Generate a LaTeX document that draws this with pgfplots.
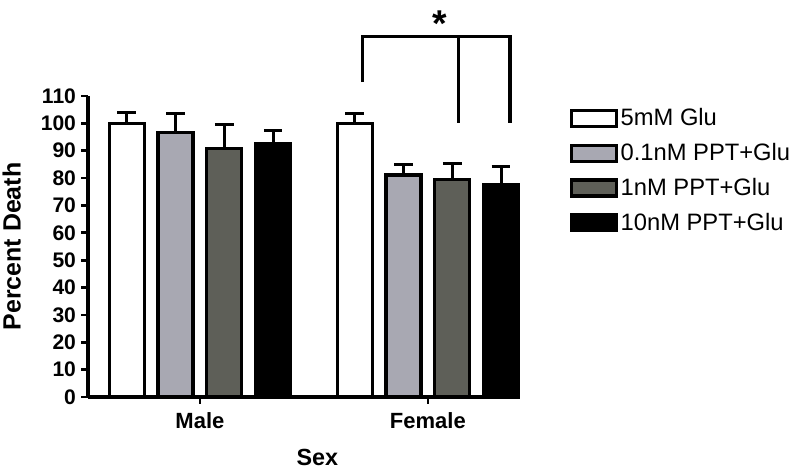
\documentclass[border=0pt]{standalone}
\usepackage{pgfplots}
\pgfplotsset{compat=1.18}
\usepackage{fontspec}
\setmainfont{Liberation Sans}
\definecolor{lgray}{HTML}{A8A8B2}
\definecolor{dgray}{HTML}{5E5F58}

\pgfplotsset{
  patch legend/.style={legend image code/.code={
    \draw[##1, line width=2.3pt] (0pt,-6pt) rectangle (34pt,6pt);}},
  sembar/.style={ybar, bar width=0.1535, bar shift=0pt, draw=black, line width=2.5pt, patch legend,
    error bars/.cd, y dir=plus, y explicit,
    error bar style={line width=2.3pt},
    error mark options={rotate=90, mark size=7pt, line width=2.3pt}},
}

\begin{document}
\begin{tikzpicture}
\useasboundingbox (-66pt,-55.5pt) rectangle (534pt,297.75pt);
\begin{axis}[
  at={(0,0)}, anchor=south west,
  width=324pt, height=225.75pt, scale only axis,
  xmin=-0.491, xmax=1.404, ymin=0, ymax=110,
  axis x line=bottom, axis y line=left,
  axis line style={line width=2.5pt, -},
  xtick={0,1}, xticklabels={Male,Female},
  ytick={0,10,...,110},
  tick style={line width=2pt, black},
  tick align=outside,
  major tick length=5pt,
  /pgf/number format/assume math mode=true,
  yticklabel style={font=\fontsize{15.8}{16}\selectfont\bfseries, xshift=-0.5pt},
  xticklabel style={font=\fontsize{16.5}{17}\selectfont\bfseries, yshift=-3pt},
  xlabel={Sex}, ylabel={Percent Death},
  xlabel style={font=\fontsize{17.5}{18}\selectfont\bfseries, yshift=-9pt, xshift=10pt},
  ylabel style={font=\fontsize{18.7}{19}\selectfont\bfseries, yshift=8pt},
  clip=false,
  legend style={at={(1.105,0.977)}, anchor=north west, draw=none, fill=none,
    font=\fontsize{17.8}{18}\selectfont, row sep=7.8pt,
    /tikz/every even column/.append style={column sep=2pt}},
  legend cell align=left,
]
\addplot[fill=white, sembar]
  coordinates {(-0.321,100) +- (0,4.0) (0.679,100) +- (0,3.6)};
\addlegendentry{5mM Glu}
\addplot[fill=lgray, sembar]
  coordinates {(-0.107,96.7) +- (0,6.9) (0.893,81.1) +- (0,3.9)};
\addlegendentry{0.1nM PPT+Glu}
\addplot[fill=dgray, sembar]
  coordinates {(0.107,90.8) +- (0,8.8) (1.107,79.5) +- (0,5.9)};
\addlegendentry{1nM PPT+Glu}
\addplot[fill=black, sembar]
  coordinates {(0.321,92.7) +- (0,4.6) (1.321,77.5) +- (0,6.7)};
\addlegendentry{10nM PPT+Glu}
% significance bracket
\draw[line width=2.3pt] (axis cs:0.715,115.1) -- (axis cs:0.715,131.9) -- (axis cs:1.360,131.9) -- (axis cs:1.360,100.1);
\draw[line width=2.3pt] (axis cs:1.136,131.9) -- (axis cs:1.136,100.1);
\node[font=\bfseries\fontsize{28}{28}\selectfont] at (axis cs:1.052,136.5) {*};
\end{axis}
\end{tikzpicture}
\end{document}
